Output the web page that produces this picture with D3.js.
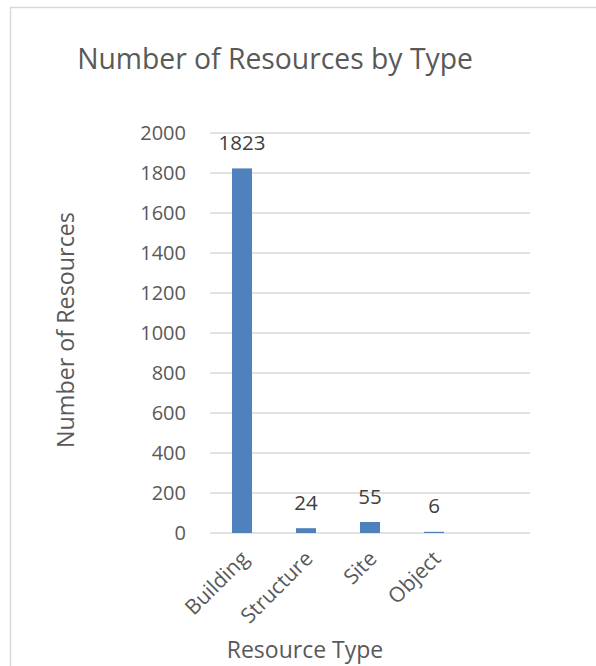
<!DOCTYPE html>
<html>
<head>
<meta charset="utf-8">
<script src="https://cdn.jsdelivr.net/npm/d3@7/dist/d3.min.js"></script>
<style>
  html, body { margin: 0; padding: 0; background: #fff; }
  svg { display: block; font-family: "Open Sans", Lato, sans-serif; }
</style>
</head>
<body>
<svg id="chart" width="596" height="666"></svg>
<script>
const categories = ["Building", "Structure", "Site", "Object", ""];
const values = [1823, 24, 55, 6, null];
const yTicks = [0, 200, 400, 600, 800, 1000, 1200, 1400, 1600, 1800, 2000];
const titleText = "Number of Resources by Type";
const yTitle = "Number of Resources";
const xTitle = "Resource Type";

const svg = d3.select("#chart");
const textColor = "#595959";
const font = "Open Sans";

// chart border (extends past the window on right and bottom)
svg.append("rect")
  .attr("x", 10.5).attr("y", 7.5)
  .attr("width", 700).attr("height", 700)
  .attr("fill", "#fff").attr("stroke", "#d9d9d9").attr("stroke-width", 1.5);

const plot = { left: 210, right: 530, top: 133, bottom: 533 };

const x = d3.scaleBand().domain(categories).range([plot.left, plot.right]).paddingInner(0.6875).paddingOuter(0.34375);
const y = d3.scaleLinear().domain([0, 2000]).range([plot.bottom, plot.top]);

// gridlines
svg.append("g")
  .selectAll("line").data(yTicks).join("line")
  .attr("x1", plot.left).attr("x2", plot.right)
  .attr("y1", d => y(d)).attr("y2", d => y(d))
  .attr("stroke", "#d9d9d9").attr("stroke-width", 1.3);

// y axis labels
const yAxis = d3.axisLeft(y).tickValues(yTicks).tickFormat(d3.format("d")).tickSize(0).tickPadding(0);
const gy = svg.append("g").attr("transform", `translate(186,0)`).call(yAxis);
gy.select(".domain").remove();
gy.selectAll("text").attr("fill", textColor).style("font-size", "20px").style("font-family", font);

// bars
const data = categories.map((c, i) => ({ c, v: values[i] })).filter(d => d.v != null);
svg.append("g").selectAll("rect").data(data).join("rect")
  .attr("x", d => x(d.c)).attr("width", x.bandwidth())
  .attr("y", d => y(d.v)).attr("height", d => y(0) - y(d.v))
  .attr("fill", "#4f81bd");

// data labels
svg.append("g").selectAll("text").data(data).join("text")
  .attr("x", d => x(d.c) + x.bandwidth() / 2)
  .attr("y", d => y(d.v) - 18.5)
  .attr("text-anchor", "middle")
  .attr("fill", "#404040").style("font-size", "20.5px")
  .text(d => d.v);

// x axis category labels
const xAxis = d3.axisBottom(x).tickSize(0).tickPadding(0);
const gx = svg.append("g").attr("transform", `translate(0,${plot.bottom})`).call(xAxis);
gx.select(".domain").remove();
gx.selectAll("text")
  .attr("fill", textColor).style("font-size", "21px").style("font-family", font)
  .attr("text-anchor", "end").attr("dy", null)
  .attr("transform", "translate(8,27) rotate(-45)");

// title
svg.append("text").attr("x", 275).attr("y", 69)
  .attr("text-anchor", "middle").attr("fill", textColor)
  .style("font-size", "28.3px").text(titleText);

// axis titles
svg.append("text")
  .attr("transform", `translate(74,${(plot.top + plot.bottom) / 2 - 3}) rotate(-90)`)
  .attr("text-anchor", "middle").attr("fill", textColor)
  .style("font-size", "23.3px").text(yTitle);

svg.append("text").attr("x", 305).attr("y", 658)
  .attr("text-anchor", "middle").attr("fill", textColor)
  .style("font-size", "23px").text(xTitle);
</script>
</body>
</html>
